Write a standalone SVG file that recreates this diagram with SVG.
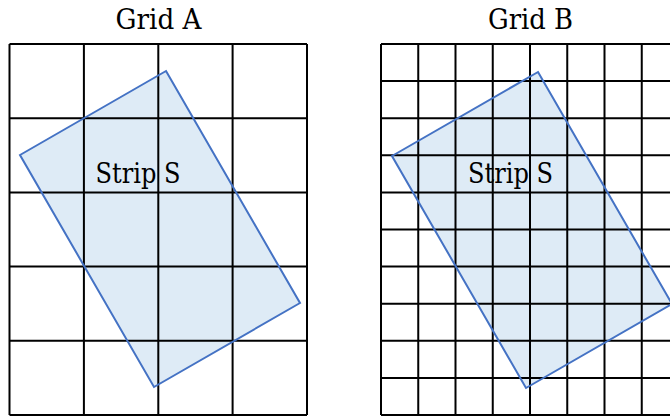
<svg xmlns="http://www.w3.org/2000/svg" width="670" height="417" viewBox="0 0 670 417">
  <style>
    .title { font-family: "DejaVu Serif", serif; font-size: 27px; fill: #000; }
    .label { font-family: "DejaVu Serif", serif; font-size: 27px; fill: #000; }
    .grid { stroke: #000; stroke-width: 2; fill: none; }
    .strip-fill { fill: #deebf6; stroke: none; }
    .strip-edge { fill: none; stroke: #4472c4; stroke-width: 2; stroke-linejoin: miter; }
  </style>
  <rect width="670" height="417" fill="#fff"/>

  <g id="gridA">
    <text class="title" x="115.5" y="29" textLength="86" lengthAdjust="spacingAndGlyphs">Grid A</text>
    <polygon class="strip-fill" points="166,71 300,303 154,387 20,155"/>
    <text class="label" x="95.5" y="183" textLength="85" lengthAdjust="spacingAndGlyphs">Strip S</text>
    <path class="grid" d="M9.5,44 H307 M9.5,118.2 H307 M9.5,192.4 H307 M9.5,266.6 H307 M9.5,340.8 H307 M9.5,415 H307
      M9.5,44 V415 M83.9,44 V415 M158.3,44 V415 M232.6,44 V415 M307,44 V415"/>
    <polygon class="strip-edge" points="166,71 300,303 154,387 20,155"/>
  </g>

  <g id="gridB">
    <text class="title" x="488" y="29" textLength="85" lengthAdjust="spacingAndGlyphs">Grid B</text>
    <polygon class="strip-fill" points="538,72 672,304 526,388 392,156"/>
    <text class="label" x="468" y="183" textLength="85" lengthAdjust="spacingAndGlyphs">Strip S</text>
    <path class="grid" d="M381,44 H679 M381,81.1 H679 M381,118.2 H679 M381,155.3 H679 M381,192.4 H679 M381,229.5 H679 M381,266.6 H679 M381,303.7 H679 M381,340.8 H679 M381,377.9 H679 M381,415 H679
      M381,44 V415 M418.25,44 V415 M455.5,44 V415 M492.75,44 V415 M530,44 V415 M567.25,44 V415 M604.5,44 V415 M641.75,44 V415 M679,44 V415"/>
    <polygon class="strip-edge" points="538,72 672,304 526,388 392,156"/>
  </g>
</svg>
